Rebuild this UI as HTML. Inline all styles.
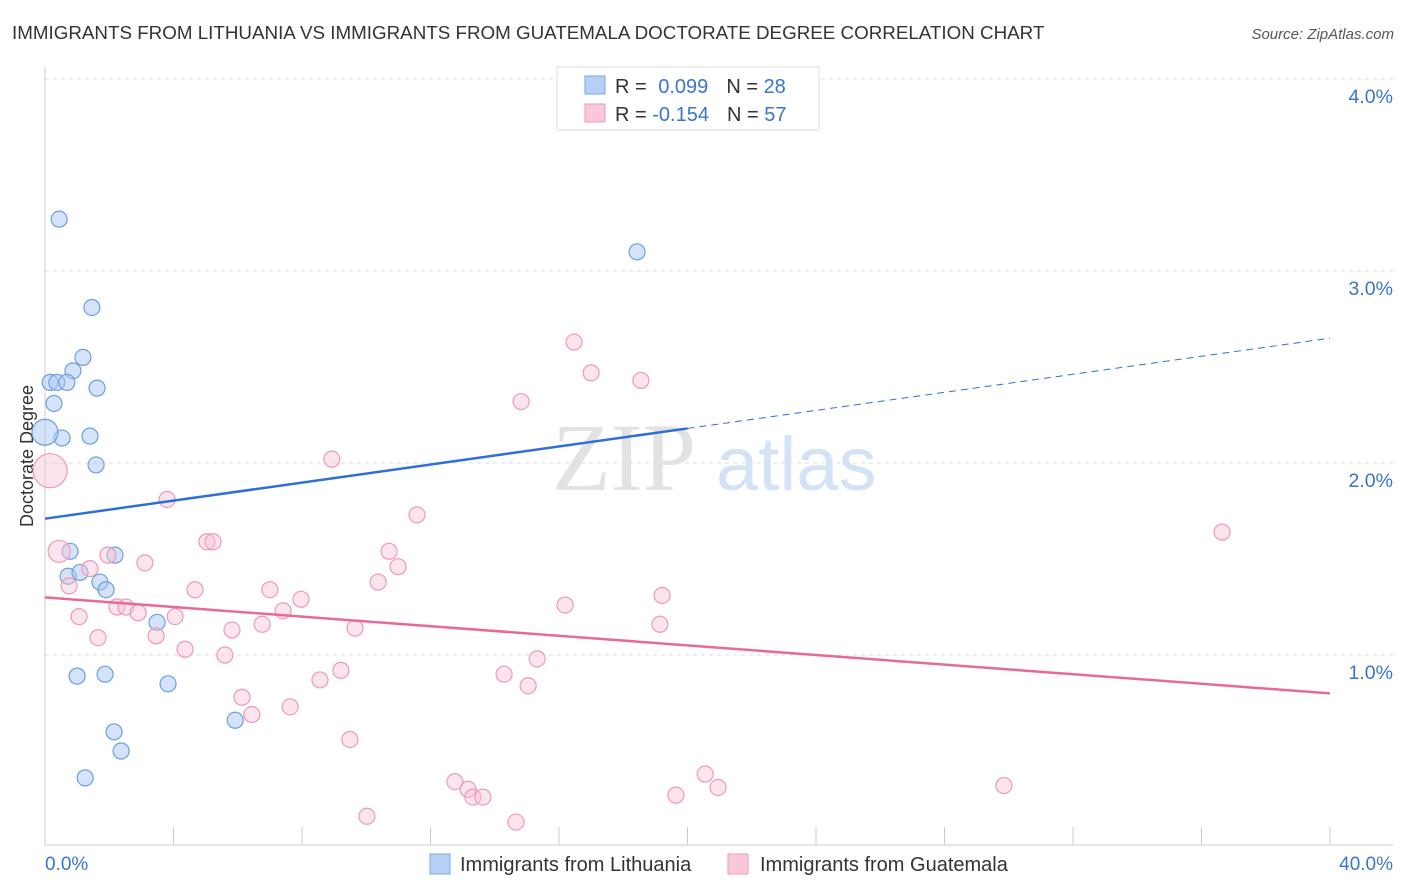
<!DOCTYPE html>
<html><head><meta charset="utf-8"><style>
body{margin:0;background:#fff;font-family:"Liberation Sans",sans-serif;}
svg{display:block}
</style></head><body>
<svg id="chart" width="1406" height="892" xmlns="http://www.w3.org/2000/svg">
<text x="12" y="39" font-size="18.8" fill="#333">IMMIGRANTS FROM LITHUANIA VS IMMIGRANTS FROM GUATEMALA DOCTORATE DEGREE CORRELATION CHART</text>
<text x="1394" y="39" font-size="15" fill="#555" font-style="italic" text-anchor="end">Source: ZipAtlas.com</text>
<g id="grid"></g>
<g id="ticks"></g>
<line x1="45" y1="67" x2="45" y2="845" stroke="#ccc"/>
<line x1="45" y1="845" x2="1393" y2="845" stroke="#ccc"/>
<g id="xticks"></g>
<text x="33" y="456" font-size="18" fill="#333" text-anchor="middle" transform="rotate(-90 33 456)">Doctorate Degree</text>
<text x="45" y="870" font-size="19" fill="#3b74d0">0.0%</text>
<text x="1393" y="870" font-size="19" fill="#3b74d0" text-anchor="end">40.0%</text>
<g><text x="552" y="490" font-size="96" font-family="Liberation Serif,serif" fill="#e2e2e2">ZIP</text><text x="716" y="490" font-size="76" fill="#d3e2f5">atlas</text></g>
<g id="marks"></g>
<g>
<rect x="557" y="67" width="262" height="63" fill="#fff" stroke="#ddd"/>
<rect x="585" y="76" width="20" height="18" fill="#b6d0f5" stroke="#7aa6e6"/>
<rect x="585" y="104" width="20" height="18" fill="#f9c8d6" stroke="#ee98b4"/>
<text x="615" y="93" font-size="20" fill="#333">R = <tspan fill="#3b74d0" dx="6">0.099</tspan><tspan dx="18" fill="#333">N = </tspan><tspan fill="#3b74d0">28</tspan></text>
<text x="615" y="121" font-size="20" fill="#333">R = <tspan fill="#3b74d0">-0.154</tspan><tspan dx="18" fill="#333">N = </tspan><tspan fill="#3b74d0">57</tspan></text>
</g>
<g>
<rect x="430" y="854" width="20" height="20" fill="#b6d0f5" stroke="#7aa6e6"/>
<text x="460" y="871" font-size="20" fill="#333">Immigrants from Lithuania</text>
<rect x="728" y="854" width="20" height="20" fill="#f9c8d6" stroke="#ee98b4"/>
<text x="760" y="871" font-size="20" fill="#333">Immigrants from Guatemala</text>
</g>
</svg>
<script>
const yTicks=[1,2,3,4];
const yTickLabels=["1.0%","2.0%","3.0%","4.0%"];
const xTickVals=[0,4,8,12,16,20,24,28,32,36,40];
const blueX=[0.44,1.46,1.18,0.87,0.16,0.37,0.68,1.62,0.28,0.53,1.40,0.0,1.59,0.78,2.18,0.72,1.09,1.71,1.90,3.49,1.00,1.87,3.83,5.92,2.15,2.37,1.25,18.43];
const blueY=[3.27,2.81,2.55,2.48,2.42,2.42,2.42,2.39,2.31,2.13,2.14,2.16,1.99,1.54,1.52,1.41,1.43,1.38,1.34,1.17,0.89,0.90,0.85,0.66,0.60,0.50,0.36,3.10];
const blueSize=[8,8,8,8,8,8,8,8,8,8,8,13,8,8,8,8,8,8,8,8,8,8,8,8,8,8,8,8];
const pinkX=[0.16,0.44,16.47,17.00,18.55,14.82,8.93,3.80,11.58,36.64,5.04,5.23,10.71,1.96,3.11,1.40,10.99,0.75,10.37,4.67,7.00,19.21,7.97,2.24,2.52,16.19,7.41,2.90,1.06,4.05,6.76,5.82,9.65,19.14,3.46,1.65,4.36,5.60,15.32,9.21,14.29,8.56,15.04,6.13,7.63,6.44,9.49,12.76,13.17,20.55,20.95,13.32,13.63,19.64,29.85,10.02,14.66];
const pinkY=[1.96,1.54,2.63,2.47,2.43,2.32,2.02,1.81,1.73,1.64,1.59,1.59,1.54,1.52,1.48,1.45,1.46,1.36,1.38,1.34,1.34,1.31,1.29,1.25,1.25,1.26,1.23,1.22,1.20,1.20,1.16,1.13,1.14,1.16,1.10,1.09,1.03,1.00,0.98,0.92,0.90,0.87,0.84,0.78,0.73,0.69,0.56,0.34,0.30,0.38,0.31,0.26,0.26,0.27,0.32,0.16,0.13];
const pinkSize=[17,11,8,8,8,8,8,8,8,8,8,8,8,8,8,8,8,8,8,8,8,8,8,8,8,8,8,8,8,8,8,8,8,8,8,8,8,8,8,8,8,8,8,8,8,8,8,8,8,8,8,8,8,8,8,8,8];
const blueTrend=[1.71,2.65];
const pinkTrend=[1.30,0.80];
const NS="http://www.w3.org/2000/svg";
const sx=v=>45+v/40*1285;
const sy=v=>847-v*192;
function mk(tag,attrs,parent){const e=document.createElementNS(NS,tag);for(const k in attrs)e.setAttribute(k,attrs[k]);parent.appendChild(e);return e;}
const grid=document.getElementById('grid'),ticks=document.getElementById('ticks'),xt=document.getElementById('xticks'),marks=document.getElementById('marks');
yTicks.forEach((t,i)=>{
 const l=mk('line',{x1:45,x2:1393,y1:sy(t),y2:sy(t),stroke:'#ddd','stroke-dasharray':'4,4'},grid);
 
 
 const tx=mk('text',{x:1393,y:sy(t)+24,'font-size':19.5,fill:'#3b74d0','text-anchor':'end'},ticks);
 tx.textContent=yTickLabels[i];
 
 
});
xTickVals.forEach(v=>{
 const l=mk('line',{x1:sx(v),x2:sx(v),y1:827,y2:845,stroke:'#ccc'},xt);
 
 
});
blueX.forEach((x,i)=>{
 const c=mk('circle',{cx:sx(x),cy:sy(blueY[i]),r:blueSize[i],fill:'rgba(170,200,242,0.5)',stroke:'#6d9fe0','stroke-width':1.2},marks);
 
 
});
pinkX.forEach((x,i)=>{
 const c=mk('circle',{cx:sx(x),cy:sy(pinkY[i]),r:pinkSize[i],fill:'rgba(249,195,213,0.45)',stroke:'#eb9ab6','stroke-width':1.2},marks);
 
 
});
const bmid=blueTrend[0]+(blueTrend[1]-blueTrend[0])*0.5;
const b1=mk('line',{x1:sx(0),y1:sy(blueTrend[0]),x2:sx(20),y2:sy(bmid),stroke:'#2e6fd6','stroke-width':2.5},marks);


const b2=mk('line',{x1:sx(20),y1:sy(bmid),x2:sx(40),y2:sy(blueTrend[1]),stroke:'#2e6fd6','stroke-width':1,'stroke-dasharray':'7,5'},marks);


const p1=mk('line',{x1:sx(0),y1:sy(pinkTrend[0]),x2:sx(40),y2:sy(pinkTrend[1]),stroke:'#e8689a','stroke-width':2.5},marks);


</script>
</body></html>
